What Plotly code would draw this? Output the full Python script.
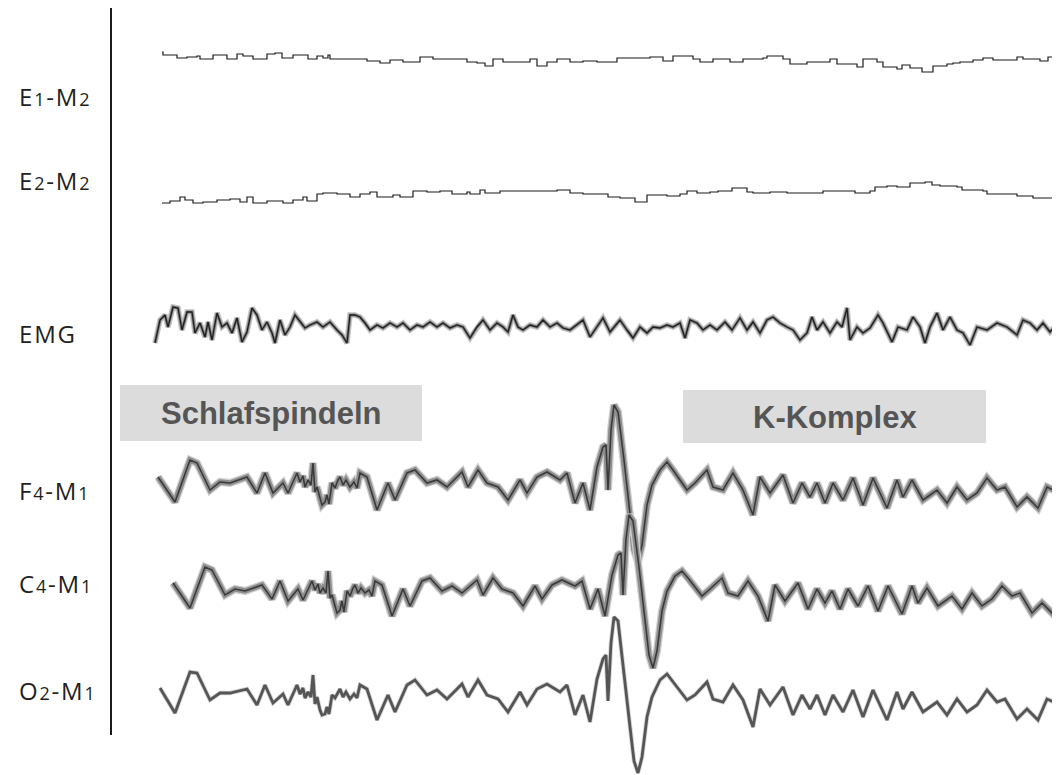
import plotly.graph_objects as go

# ---------------- data (sample index at FS Hz, amplitude in µV) ----------------
FS = 30.0  # samples per second (30 s epoch)

e1_idx = [7, 8, 22, 32, 42, 45, 58, 72, 82, 88, 98, 112, 120, 127, 138, 150, 153, 162, 168, 173, 175,
          203, 212, 225, 235, 248, 265, 278, 295, 312, 322, 330, 338, 348, 365, 375, 382, 392, 402, 415,
          428, 442, 453, 462, 490, 495, 508, 518, 538, 545, 558, 575, 588, 608, 612, 628, 635, 652, 675,
          682, 698, 702, 708, 722, 728, 742, 747, 755, 767, 778, 792, 798, 805, 818, 828, 838, 862, 868,
          885, 893, 905]
e1_val = [5, 2, -1, 0, 1, -2, 2, -2, 3, 1, -2, 3, 4, -1, 2, 2, -2, 1, -1, 2, -2,
          -2, -4, -6, -3, -5, 0, -2, -2, -5, -6, -9, -2, -5, -5, -2, -9, -5, -2, -5,
          -4, -5, -5, -1, -1, 0, -4, 1, -2, -5, -2, -5, -2, -1, 1, -2, -7, -5, -2,
          -7, -7, -10, -2, -5, -10, -12, -8, -11, -15, -9, -7, -6, -5, -3, -1, -3, 0, -2,
          -4, 0, -1]

e2_idx = [7, 15, 25, 30, 38, 48, 62, 75, 85, 92, 98, 112, 128, 138, 148, 152, 162, 168, 182, 195,
          205, 215, 222, 238, 245, 258, 272, 285, 297, 312, 315, 325, 330, 345, 358, 402, 415, 428, 442,
          453, 465, 480, 492, 512, 525, 532, 542, 555, 563, 577, 592, 598, 615, 632, 648, 668, 698, 700,
          715, 720, 732, 742, 755, 770, 777, 785, 802, 807, 828, 832, 848, 862, 878, 902]
e2_val = [-8, -6, -2, -5, -8, -7, -5, -4, -7, -2, -8, -6, -8, -5, -2, -6, 1, 2, 1, -2,
          1, 3, -2, 0, -2, 4, 3, 4, 1, 3, 1, 5, 2, 4, 4, 5, 2, 1, 1,
          -2, -3, -7, 0, -1, 1, 4, 2, 3, 4, 7, 3, 2, 3, 2, 2, 4, 4, 2,
          4, 8, 9, 8, 12, 13, 10, 9, 8, 5, 4, 1, 1, -1, -3, -4]

emg_idx = [0, 5, 10, 13, 18, 23, 27, 32, 37, 40, 45, 50, 53, 57, 62, 67, 72, 77, 82, 87,
           92, 97, 102, 107, 112, 117, 120, 125, 130, 135, 140, 145, 150, 155, 162, 168, 175, 182, 187, 192,
           195, 200, 205, 210, 215, 222, 228, 235, 242, 248, 255, 262, 268, 275, 282, 288, 295, 302, 308, 315,
           322, 328, 335, 342, 348, 353, 358, 363, 368, 375, 382, 388, 395, 402, 408, 415, 422, 428, 435, 442,
           448, 455, 465, 472, 478, 485, 492, 498, 505, 512, 518, 525, 530, 535, 542, 548, 555, 562, 570, 577,
           585, 592, 598, 605, 612, 618, 625, 632, 638, 645, 652, 657, 662, 668, 675, 682, 687, 692, 695, 702,
           708, 715, 723, 728, 737, 743, 752, 758, 765, 770, 775, 782, 788, 795, 802, 808, 815, 822, 832, 842,
           852, 862, 868, 875, 882, 888, 895, 903]
emg_val = [-18, 5, 10, -2, 18, 17, -5, 13, 13, -8, 2, -12, 3, -15, 12, -2, 2, -8, 7, -17,
           -7, 17, 10, -5, 3, -8, -18, 5, -10, -2, 10, 3, -3, 0, 3, -2, 3, -5, -10, -18,
           10, 10, 8, 2, -5, 0, -3, 2, -2, 2, -5, 0, -2, 3, -2, 2, -3, 0, -2, -13,
           -2, 5, -5, 2, -2, -7, 10, -2, -5, 0, -2, 5, -2, 2, -3, -5, 0, 5, -12, -2,
           7, -7, 5, -5, -13, -2, -8, -2, -3, 0, -2, 2, -13, 5, 2, -5, 0, -5, 3, -5,
           7, -5, 3, -8, 5, 8, 2, -2, -5, -15, -8, 8, -5, 3, -8, 3, -2, 17, -15, -2,
           -8, -3, 10, 2, -17, -2, -5, 8, -2, -18, -2, 12, -5, 8, -5, -8, -20, -2, -5, 2,
           -2, -10, 5, 2, -5, 2, -7, 2]

f4_idx = [3, 20, 35, 42, 55, 65, 75, 92, 102, 110, 118, 128, 133,
          142, 145, 148, 150, 153, 156, 158, 160, 162, 165, 167, 170, 172, 174, 177, 180, 183, 185, 188, 191,
          195, 199, 202, 205, 212,
          222, 233, 240, 252, 260, 272, 282, 292, 307, 313, 323, 332, 343, 353, 365, 372, 382,
          392, 405, 412, 420, 428, 435, 442, 448, 451, 453, 456, 459, 463, 469, 475, 479, 483, 487, 492, 497,
          505, 512, 518, 532, 540, 552, 558, 568, 578, 588, 598, 605, 615, 628, 638, 647, 655, 662, 670, 678,
          688, 698, 708, 718, 732, 742, 748, 757, 768, 782, 792, 802, 812, 822, 832, 842, 850, 862, 872, 883,
          892, 905]
f4_val = [13, -12, 30, 27, 0, 8, 7, 13, -3, 17, -3, 7, -3,
          17, 8, 14, 3, 10, 5, 27, -2, 3, -8, -15, -12, -5, -14, 7, 2, 10, 13, 5, 10,
          3, 8, 2, 17, 13,
          -20, 7, -10, 17, 20, 7, 10, 3, 18, 3, 20, 7, 3, -10, 10, -3, 13,
          18, 10, 17, -13, 7, -20, 23, 43, 45, 0, 60, 85, 78, 30, -25, -60, -72, -55, -15, 5,
          20, 28, 20, 0, 7, 20, 3, 0, 17, 0, -25, 13, -3, 15, -13, 7, -7, 7, -13, 7,
          -10, 12, -15, 12, -18, 10, -7, 10, -10, 0, -13, 3, -10, -3, 12, 0, 3, -17, -7, -18,
          3, -3]

c4_idx = [18, 35, 50, 57, 70, 80, 90, 107, 117, 125, 133, 143, 148,
          157, 160, 163, 165, 168, 171, 173, 175, 177, 180, 182, 185, 187, 189, 192, 195, 198, 200, 203, 206,
          210, 214, 217, 220, 227,
          237, 248, 255, 267, 275, 287, 297, 307, 322, 328, 338, 347, 358, 368, 380, 387, 397,
          407, 420, 427, 435, 443, 450, 457, 463, 466, 468, 471, 474, 478, 484, 490, 494, 498, 502, 507, 512,
          520, 527, 533, 547, 555, 567, 573, 583, 593, 603, 613, 620, 630, 643, 653, 662, 670, 677, 685, 693,
          703, 713, 723, 733, 747, 757, 763, 772, 783, 797, 807, 817, 827, 837, 847, 857, 865, 877, 887, 898,
          907, 920]
c4_val = [14, -11, 30, 27, 2, 8, 6, 12, -2, 16, -4, 8, -3,
          16, 7, 13, 4, 9, 4, 26, -1, 2, -9, -16, -13, -4, -15, 6, 1, 9, 12, 4, 9,
          4, 7, 1, 16, 12,
          -19, 8, -9, 16, 19, 6, 11, 4, 17, 2, 19, 8, 4, -9, 11, -2, 12,
          17, 11, 16, -12, 8, -19, 22, 42, 44, 2, 58, 82, 76, 30, -24, -58, -71, -54, -14, 6,
          21, 26, 19, 1, 8, 19, 4, 1, 16, 1, -24, 12, -4, 14, -12, 8, -6, 6, -12, 8,
          -9, 11, -14, 11, -17, 11, -6, 9, -9, 1, -12, 4, -9, -2, 11, 1, 4, -16, -6, -17,
          4, -2]

o2_idx = [5, 20, 35, 42, 55, 65, 75, 92, 102, 110, 118, 128, 133,
          142, 145, 148, 150, 153, 156, 158, 160, 162, 165, 167, 170, 172, 174, 177, 180, 183, 185, 188, 191,
          195, 199, 202, 205, 212,
          222, 233, 240, 252, 260, 272, 282, 292, 307, 313, 323, 332, 343, 353, 365, 372, 382,
          392, 405, 412, 420, 428, 435, 442, 448, 451, 453, 456, 459, 463, 469, 475, 479, 483, 487, 492, 497,
          505, 512, 518, 532, 540, 552, 558, 568, 578, 588, 598, 605, 615, 628, 638, 647, 655, 662, 670, 678,
          688, 698, 708, 718, 732, 742, 748, 757, 768, 782, 792, 802, 812, 822, 832, 842, 850, 862, 872, 883,
          892, 905]
o2_val = [13, -12, 29, 28, 1, 8, 8, 12, -4, 16, -2, 7, -4,
          16, 7, 13, 3, 9, 4, 26, -3, 4, -9, -14, -13, -6, -13, 6, 3, 9, 12, 4, 9,
          2, 7, 3, 16, 12,
          -19, 6, -11, 16, 21, 6, 11, 2, 17, 4, 21, 6, 2, -11, 9, -4, 12,
          17, 9, 16, -14, 6, -21, 22, 42, 46, 0, 58, 84, 80, 30, -26, -60, -72, -56, -16, 4,
          21, 27, 19, 1, 6, 19, 2, -1, 16, 1, -26, 12, -4, 14, -14, 6, -8, 6, -14, 6,
          -11, 11, -16, 11, -19, 9, -8, 9, -11, -1, -14, 2, -11, -4, 11, -1, 2, -18, -8, -19,
          2, -4]

channel_labels = ["E1-M2", "E2-M2", "EMG", "F4-M1", "C4-M1", "O2-M1"]
box_labels = ["Schlafspindeln", "K-Komplex"]

# ---------------- layout constants (pixels of the page) ----------------
W, H = 1060, 775
OFF = 8             # default page margin of the html body
FW, FH = W - OFF, H - OFF
X0 = 155            # page pixel of t = 0
PX_PER_S = 30.0     # horizontal scale
baselines = {"E1-M2": 57, "E2-M2": 195, "EMG": 325, "F4-M1": 490, "C4-M1": 597, "O2-M1": 701}
label_y = {"E1-M2": 96, "E2-M2": 181, "EMG": 333, "F4-M1": 490, "C4-M1": 583, "O2-M1": 690}


def times(idx):
    return [i / FS for i in idx]


def ys(name, vals):
    b = baselines[name]
    return [b - v for v in vals]


fig = go.Figure()


def add(name, idx, vals, layers, shape="linear"):
    t = times(idx)
    y = ys(name, vals)
    for k, (color, width) in enumerate(layers):
        fig.add_trace(go.Scatter(x=t, y=y, mode="lines", name=name,
                                 line=dict(color=color, width=width, shape=shape),
                                 hoverinfo="skip" if k < len(layers) - 1 else None,
                                 showlegend=False))


add("E1-M2", e1_idx, e1_val, [("#1a1a1a", 1.2)], shape="hv")
add("E2-M2", e2_idx, e2_val, [("#1a1a1a", 1.2)], shape="hv")
add("EMG", emg_idx, emg_val, [("#c4c4c4", 5.5), ("#808080", 3), ("#1e1e1e", 1.3)])
add("F4-M1", f4_idx, f4_val, [("#cfcfcf", 8), ("#8e8e8e", 5.5), ("#3a3a3a", 1.6)])
add("C4-M1", c4_idx, c4_val, [("#cfcfcf", 8), ("#8e8e8e", 5.5), ("#3a3a3a", 1.6)])
add("O2-M1", o2_idx, o2_val, [("#d4d4d4", 4.5), ("#555555", 2.8)])


def px(x):
    return (x - OFF) / FW


def py(y):
    return 1 - (y - OFF) / FH


shapes = [
    dict(type="line", xref="paper", yref="paper", x0=px(111), x1=px(111), y0=py(7), y1=py(735),
         line=dict(color="#1a1a1a", width=2)),
    dict(type="rect", xref="paper", yref="paper", x0=px(120), x1=px(422), y0=py(441), y1=py(385),
         fillcolor="#dcdcdc", line=dict(width=0), layer="below"),
    dict(type="rect", xref="paper", yref="paper", x0=px(683), x1=px(986), y0=py(443), y1=py(390),
         fillcolor="#dcdcdc", line=dict(width=0), layer="below"),
]

BIG = "<span style='letter-spacing:1.8px'>{}</span>"
SMALL = "<span style='font-size:18px;letter-spacing:1.8px'>{}</span>"
annotations = []
for lab in channel_labels:
    if "-" in lab:
        a, b = lab.split("-")
        txt = BIG.format(a[0]) + SMALL.format(a[1]) + BIG.format("-" + b[0]) + SMALL.format(b[1])
    else:
        txt = BIG.format(lab)
    annotations.append(dict(text=txt, xref="paper", yref="paper", x=px(17), y=py(label_y[lab]),
                            xanchor="left", yanchor="middle", showarrow=False,
                            font=dict(family="Open Sans", size=24, color="#231f20")))
annotations.append(dict(text=f"<b>{box_labels[0]}</b>", xref="paper", yref="paper", x=px(271), y=py(414),
                        xanchor="center", yanchor="middle", showarrow=False,
                        font=dict(family="Liberation Sans", size=31, color="#555555")))
annotations.append(dict(text=f"<b>{box_labels[1]}</b>", xref="paper", yref="paper", x=px(835), y=py(417),
                        xanchor="center", yanchor="middle", showarrow=False,
                        font=dict(family="Liberation Sans", size=31, color="#555555")))

fig.update_layout(
    width=FW, height=FH, margin=dict(l=0, r=0, t=0, b=0),
    paper_bgcolor="white", plot_bgcolor="white",
    xaxis=dict(range=[(OFF - X0) / PX_PER_S, (W - X0) / PX_PER_S], visible=False, fixedrange=True),
    yaxis=dict(range=[H, OFF], visible=False, fixedrange=True),
    shapes=shapes, annotations=annotations,
)

fig.write_html("out.html")
